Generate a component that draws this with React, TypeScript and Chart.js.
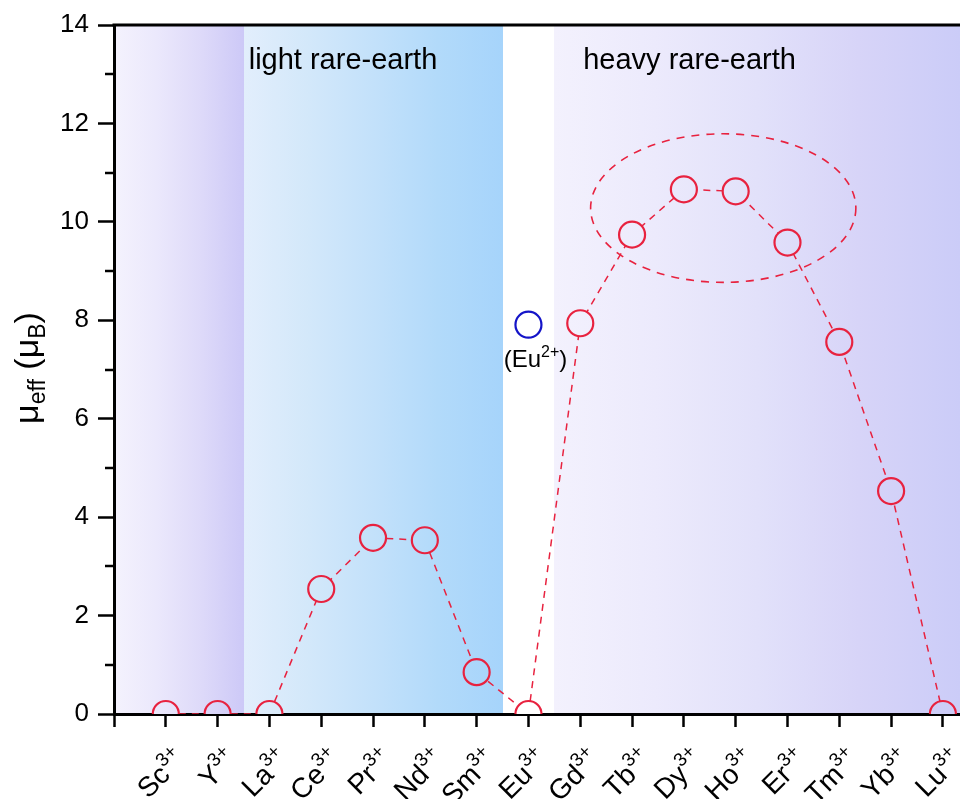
import React, { useEffect, useRef } from 'react';
import { Chart, registerables } from 'chart.js';

Chart.register(...registerables);

// ---------- data ----------
const ions = ['Sc', 'Y', 'La', 'Ce', 'Pr', 'Nd', 'Sm', 'Eu', 'Gd', 'Tb', 'Dy', 'Ho', 'Er', 'Tm', 'Yb', 'Lu'];
const ionCharge = '3+';
const muEff = [0, 0, 0, 2.54, 3.58, 3.53, 0.85, 0, 7.94, 9.74, 10.66, 10.62, 9.58, 7.56, 4.53, 0];
const eu2Index = 7;
const eu2Value = 7.91;
const eu2Label = ['(Eu', '2+', ')'];
const yTickValues = [0, 2, 4, 6, 8, 10, 12, 14];
const xTickValues = [-1, 0, 1, 2, 3, 4, 5, 6, 7, 8, 9, 10, 11, 12, 13, 14, 15];
const regionBands = [
  { from: -1, to: 1.5, colors: ['#f4f2fd', '#ebe8fc', '#dedaf9', '#cdc9f7'] },
  { from: 1.5, to: 6.5, colors: ['#e2eefc', '#d3e8fa', '#c3e1fa', '#b2dafa', '#a6d4fb'] },
  { from: 6.5, to: 7.5, colors: ['#ffffff', '#ffffff'] },
  { from: 7.5, to: 15.33, colors: ['#f3f1fd', '#eceafc', '#e2e1fa', '#d7d4f8', '#cbccf8'] },
];
const regionLabels = [
  { text: 'light rare-earth', x: 3.42 },
  { text: 'heavy rare-earth', x: 10.11 },
];
const highlightEllipse = { cx: 10.76, cy: 10.28, rx: 2.56, ry: 1.51 };

const RED = '#e8223f';
const BLUE = '#1414c8';
const FONT = '"Liberation Sans", Arial, Helvetica, sans-serif';

function getGrad(chart: any) {
  const a = chart.chartArea;
  const xs = chart.scales.x;
  if (!a || !xs) return '#ffffff';
  const key = `${a.left},${a.right}`;
  if (chart.$grad && chart.$gradKey === key) return chart.$grad;
  const g = chart.ctx.createLinearGradient(a.left, 0, a.right, 0);
  const W = a.right - a.left;
  const off = (v: number) => Math.min(1, Math.max(0, (xs.getPixelForValue(v) - a.left) / W));
  regionBands.forEach((r) => {
    const n = r.colors.length;
    r.colors.forEach((c, i) => {
      const v = r.from + ((r.to - r.from) * i) / (n - 1);
      g.addColorStop(off(v), c);
    });
  });
  chart.$grad = g;
  chart.$gradKey = key;
  return g;
}

function drawRich(ctx: CanvasRenderingContext2D, parts: { t: string; size: number; dy: number }[], x: number, y: number, align: 'left' | 'right' | 'center') {
  let total = 0;
  const widths = parts.map((p) => {
    ctx.font = `${p.size}px ${FONT}`;
    const w = ctx.measureText(p.t).width;
    total += w;
    return w;
  });
  let cx = align === 'left' ? x : align === 'right' ? x - total : x - total / 2;
  ctx.textAlign = 'left';
  parts.forEach((p, i) => {
    ctx.font = `${p.size}px ${FONT}`;
    ctx.fillText(p.t, cx, y + p.dy);
    cx += widths[i];
  });
}

const decoPlugin = {
  id: 'deco',
  beforeDraw(chart: any) {
    const { ctx, chartArea: a } = chart;
    ctx.save();
    ctx.fillStyle = getGrad(chart);
    ctx.fillRect(a.left, a.top, a.right - a.left, a.bottom - a.top);
    // region labels
    ctx.fillStyle = '#000';
    ctx.font = `29px ${FONT}`;
    ctx.textAlign = 'center';
    ctx.textBaseline = 'alphabetic';
    regionLabels.forEach((r) => {
      ctx.fillText(r.text, chart.scales.x.getPixelForValue(r.x), a.top + 44);
    });
    ctx.restore();
  },
  afterDatasetsDraw(chart: any) {
    const { ctx } = chart;
    const xs = chart.scales.x;
    const ys = chart.scales.y;
    ctx.save();
    // ellipse
    ctx.beginPath();
    const cx = xs.getPixelForValue(highlightEllipse.cx);
    const cy = ys.getPixelForValue(highlightEllipse.cy);
    const rx = xs.getPixelForValue(highlightEllipse.cx + highlightEllipse.rx) - cx;
    const ry = cy - ys.getPixelForValue(highlightEllipse.cy + highlightEllipse.ry);
    ctx.ellipse(cx, cy, rx, ry, 0, 0, Math.PI * 2);
    ctx.setLineDash([8, 7]);
    ctx.lineWidth = 1.6;
    ctx.strokeStyle = RED;
    ctx.stroke();
    ctx.setLineDash([]);

    // Eu2+ label
    ctx.fillStyle = '#000';
    ctx.textBaseline = 'alphabetic';
    const ex = xs.getPixelForValue(eu2Index) + 7;
    const ey = ys.getPixelForValue(eu2Value) + 42;
    drawRich(ctx, [
      { t: eu2Label[0], size: 24, dy: 0 },
      { t: eu2Label[1], size: 16, dy: -10 },
      { t: eu2Label[2], size: 24, dy: 0 },
    ], ex, ey, 'center');
    ctx.restore();
  },
  afterDraw(chart: any) {
    const { ctx, chartArea: a } = chart;
    const xs = chart.scales.x;
    const ys = chart.scales.y;
    ctx.save();
    // top border
    ctx.strokeStyle = '#000';
    ctx.lineWidth = 3;
    ctx.beginPath();
    ctx.moveTo(a.left - 1.5, a.top);
    ctx.lineTo(a.right, a.top);
    ctx.stroke();
    // minor y ticks
    ctx.lineWidth = 2.5;
    for (let v = 1; v < 14; v += 2) {
      const py = Math.round(ys.getPixelForValue(v));
      ctx.beginPath();
      ctx.moveTo(a.left - 9, py);
      ctx.lineTo(a.left, py);
      ctx.stroke();
    }
    // x labels (rotated, with superscript)
    ctx.fillStyle = '#000';
    ctx.textBaseline = 'alphabetic';
    ions.forEach((name, i) => {
      const px = xs.getPixelForValue(i);
      ctx.save();
      ctx.translate(px + 21, a.bottom + 47);
      ctx.rotate(-Math.PI / 4);
      drawRich(ctx, [
        { t: name, size: 28, dy: 0 },
        { t: ionCharge, size: 19, dy: -12 },
      ], 0, 0, 'right');
      ctx.restore();
    });
    // y title
    ctx.save();
    ctx.translate(38, 368);
    ctx.rotate(-Math.PI / 2);
    drawRich(ctx, [
      { t: 'μ', size: 34, dy: 0 },
      { t: 'eff', size: 23, dy: 7 },
      { t: ' (', size: 34, dy: 0 },
      { t: 'μ', size: 34, dy: 0 },
      { t: 'B', size: 23, dy: 7 },
      { t: ')', size: 34, dy: 0 },
    ], 0, 0, 'center');
    ctx.restore();
    ctx.restore();
  },
};

export default function App() {
  const ref = useRef<HTMLCanvasElement>(null);
  useEffect(() => {
    if (!ref.current) return;
    document.documentElement.style.overflow = 'hidden';
    document.body.style.margin = '0';
    document.body.style.overflow = 'hidden';
    const chart = new Chart(ref.current, {
      type: 'scatter',
      data: {
        datasets: [
          {
            label: 'RE3+',
            data: muEff.map((v, i) => ({ x: i, y: v })),
            showLine: true,
            borderColor: RED,
            borderWidth: 1.5,
            borderDash: [7, 6],
            pointRadius: 13,
            pointBorderWidth: 2.2,
            pointBorderColor: RED,
            pointBackgroundColor: (c: any) => getGrad(c.chart),
            clip: 0,
          } as any,
          {
            label: 'Eu2+',
            data: [{ x: eu2Index, y: eu2Value }],
            showLine: false,
            pointRadius: 13,
            pointBorderWidth: 2.2,
            pointBorderColor: BLUE,
            pointBackgroundColor: (c: any) => getGrad(c.chart),
            clip: 0,
          } as any,
        ],
      },
      options: {
        animation: false,
        responsive: false,
        events: [],
        layout: { autoPadding: false, padding: { left: 0, right: 0, top: 25, bottom: 0 } },
        plugins: { legend: { display: false }, tooltip: { enabled: false } },
        scales: {
          x: {
            type: 'linear',
            min: -1,
            max: 15.33,
            z: 1,
            afterFit: (s: any) => { s.height = 85; },
            afterBuildTicks: (s: any) => { s.ticks = xTickValues.map((v) => ({ value: v })); },
            ticks: { display: false },
            grid: { drawOnChartArea: false, drawTicks: true, tickLength: 13, tickWidth: 2.5, tickColor: '#000' },
            border: { display: true, color: '#000', width: 3 },
          },
          y: {
            min: 0,
            max: 14,
            z: 1,
            afterFit: (s: any) => { s.width = 114; },
            afterBuildTicks: (s: any) => { s.ticks = yTickValues.map((v) => ({ value: v })); },
            ticks: { color: '#000', font: { family: FONT, size: 26 }, padding: 9 },
            grid: { drawOnChartArea: false, drawTicks: true, tickLength: 16, tickWidth: 2.5, tickColor: '#000' },
            border: { display: true, color: '#000', width: 3 },
          },
        },
      } as any,
      plugins: [decoPlugin],
    });
    return () => chart.destroy();
  }, []);
  return (
    <div style={{ position: 'fixed', left: 0, top: 0, width: 960, height: 799, background: '#fff', overflow: 'hidden' }}>
      <canvas ref={ref} width={960} height={799} style={{ display: 'block', width: '960px', height: '799px' }} />
    </div>
  );
}
